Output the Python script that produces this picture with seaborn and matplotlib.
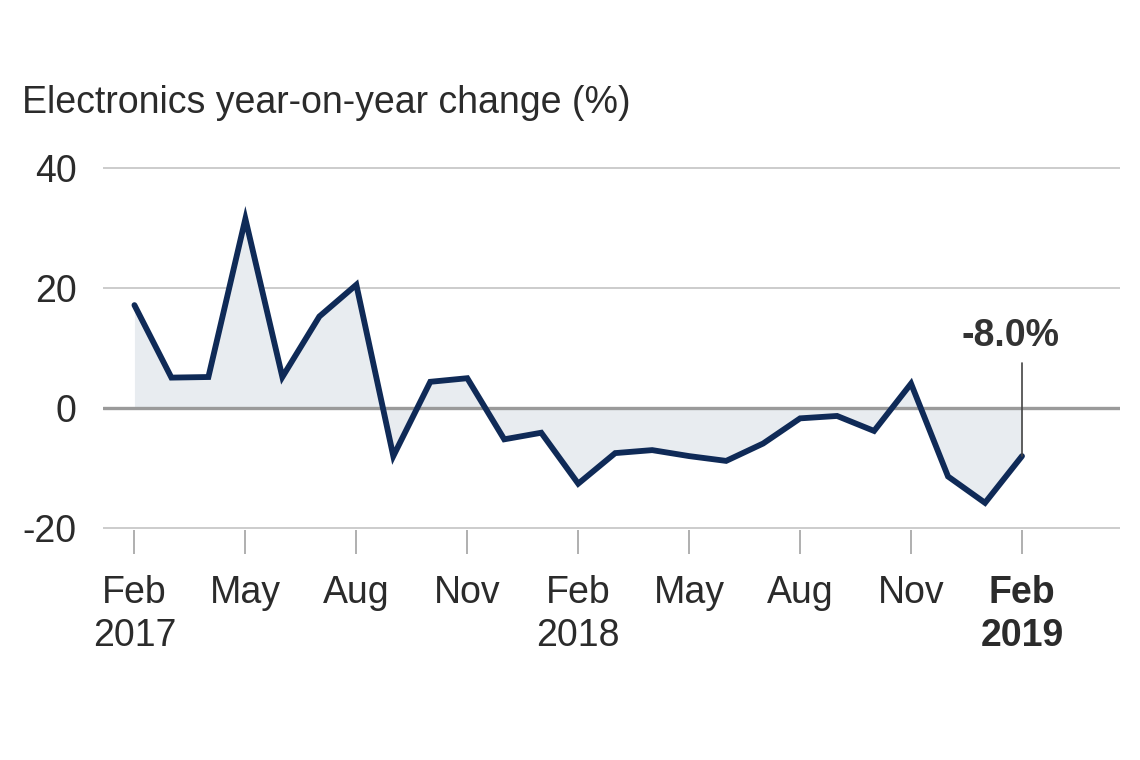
import matplotlib
matplotlib.use("Agg")
import matplotlib.pyplot as plt
from matplotlib import font_manager
import seaborn as sns
import pandas as pd
import numpy as np

# ---- data ----
months = ["Feb 2017", "Mar 2017", "Apr 2017", "May 2017", "Jun 2017", "Jul 2017",
          "Aug 2017", "Sep 2017", "Oct 2017", "Nov 2017", "Dec 2017", "Jan 2018",
          "Feb 2018", "Mar 2018", "Apr 2018", "May 2018", "Jun 2018", "Jul 2018",
          "Aug 2018", "Sep 2018", "Oct 2018", "Nov 2018", "Dec 2018", "Jan 2019",
          "Feb 2019"]
yoy_change = [17.2, 5.1, 5.2, 31.6, 5.2, 15.3, 20.6, -8.0, 4.4, 5.0, -5.2, -4.1,
              -12.6, -7.5, -7.0, -8.0, -8.8, -5.9, -1.7, -1.3, -3.8, 4.1, -11.4,
              -15.8, -8.0]
tick_labels = ["Feb\n2017", "May", "Aug", "Nov", "Feb\n2018", "May", "Aug", "Nov", "Feb\n2019"]
y_ticks = [-20, 0, 20, 40]
title = "Electronics year-on-year change (%)"
callout = "-8.0%"

# ---- fonts ----
names = {f.name for f in font_manager.fontManager.ttflist}
base = "Liberation Sans Narrow" if "Liberation Sans Narrow" in names else "Liberation Sans"

sns.set_theme(style="white")
plt.rcParams["font.family"] = [base, "DejaVu Sans"]

df = pd.DataFrame({"idx": np.arange(len(months)), "month": months, "value": yoy_change})

fig = plt.figure(figsize=(11.4, 7.6), dpi=100)
L, R = 103 / 1140, 1120 / 1140
B, T = 1 - 529.5 / 760, 1 - 167 / 760
ax = fig.add_axes([L, B, R - L, T - B])

line_col = "#0f2a57"
fill_col = "#e8ecf0"

ax.fill_between(df["idx"], df["value"], 0, color=fill_col, lw=0, zorder=1)
for y in y_ticks:
    if y == 0:
        ax.axhline(y, color="#9a9a9a", lw=2.4, zorder=2)
    else:
        ax.axhline(y, color="#c4c4c4", lw=1.2, zorder=0)
sns.lineplot(data=df, x="idx", y="value", ax=ax, color=line_col, lw=4.2,
             zorder=3, solid_joinstyle="miter")

ax.set_ylim(-20.25, 40.25)
ax.set_xlim(-0.85, 26.65)
for s in ax.spines.values():
    s.set_visible(False)

tick_pos = list(range(0, len(months), 3))
ax.set_xticks(tick_pos)
ax.set_xticklabels(tick_labels, fontsize=27, color="#2b2b2b", linespacing=1.25)
ax.xaxis.get_ticklabels()[-1].set_fontweight("bold")
ax.tick_params(axis="x", bottom=True, length=17, width=1.1, color="#9a9a9a",
               pad=16, direction="out")
ax.set_yticks(y_ticks)
ax.set_yticklabels([str(v) for v in y_ticks], fontsize=27, color="#2b2b2b")
ax.tick_params(axis="y", left=False, pad=13)
ax.set_xlabel("")
ax.set_ylabel("")

fig.text(22 / 1140, 1 - 103 / 760, title, fontsize=27, color="#2b2b2b",
         va="center", ha="left")

last = len(months) - 1
ax.plot([last, last], [yoy_change[-1], 7.6], color="#444444", lw=1.2, zorder=4)
ax.text(last - 0.3, 12.0, callout, fontsize=27, fontweight="bold", color="#333333",
        ha="center", va="center")

fig.savefig("out.png", dpi=100)
